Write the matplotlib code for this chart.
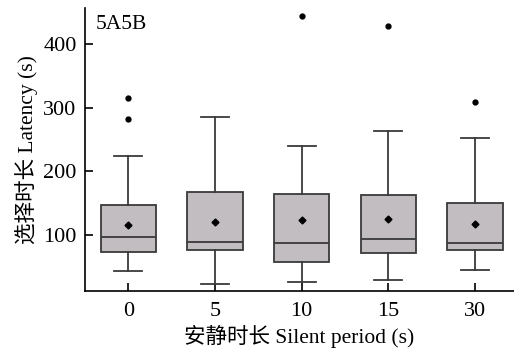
import numpy as np
import matplotlib
import matplotlib.pyplot as plt

matplotlib.use('Agg')
plt.rcParams['font.family'] = ['Liberation Serif', 'Noto Sans CJK SC']

# values
periods = ['0', '5', '10', '15', '30']
whislo = [44, 23, 26, 30, 45]
q1 = [74, 76, 57, 72, 77]
med = [97, 89, 88, 93, 87]
q3 = [148, 167, 165, 163, 151]
whishi = [225, 285, 240, 263, 253]
means = [115, 120, 124, 125, 117]
fliers = [[316, 283], [], [444], [429], [309]]

stats = []
for i in range(len(periods)):
    stats.append({'label': periods[i], 'whislo': whislo[i], 'q1': q1[i],
                  'med': med[i], 'q3': q3[i], 'whishi': whishi[i],
                  'mean': means[i], 'fliers': fliers[i]})

edge = '#3a3a3a'
fig = plt.figure(figsize=(5.14, 3.51), dpi=100)
ax = fig.add_axes([85 / 514, 60 / 351, 429 / 514, 283 / 351])

ax.bxp(stats, positions=range(len(periods)), widths=0.64, patch_artist=True,
       showmeans=True, showfliers=True,
       boxprops=dict(facecolor='#c1bdc1', edgecolor=edge, linewidth=1.3),
       medianprops=dict(color=edge, linewidth=1.3),
       whiskerprops=dict(color=edge, linewidth=1.3),
       capprops=dict(color=edge, linewidth=1.3),
       meanprops=dict(marker='D', markerfacecolor='black', markeredgecolor='black', markersize=3.5),
       flierprops=dict(marker='o', markerfacecolor='black', markeredgecolor='black', markersize=3.5))

ax.set_xlim(-0.5, 4.45)
ax.set_ylim(12, 457)
ax.set_yticks([100, 200, 300, 400])
ax.spines['top'].set_visible(False)
ax.spines['right'].set_visible(False)
ax.spines['left'].set_linewidth(1.2)
ax.spines['bottom'].set_linewidth(1.2)
ax.tick_params(direction='in', length=6, width=1.2, labelsize=16)
ax.tick_params(axis='x', pad=8)
ax.tick_params(axis='y', pad=6)
ax.set_xlabel('安静时长 Silent period (s)', fontsize=15.5, labelpad=3)
ax.set_ylabel('选择时长 Latency (s)', fontsize=15.5, labelpad=4)
ax.text(0.025, 0.975, '5A5B', transform=ax.transAxes, fontsize=15.5, va='top', ha='left')

fig.savefig('out.png', dpi=100)
